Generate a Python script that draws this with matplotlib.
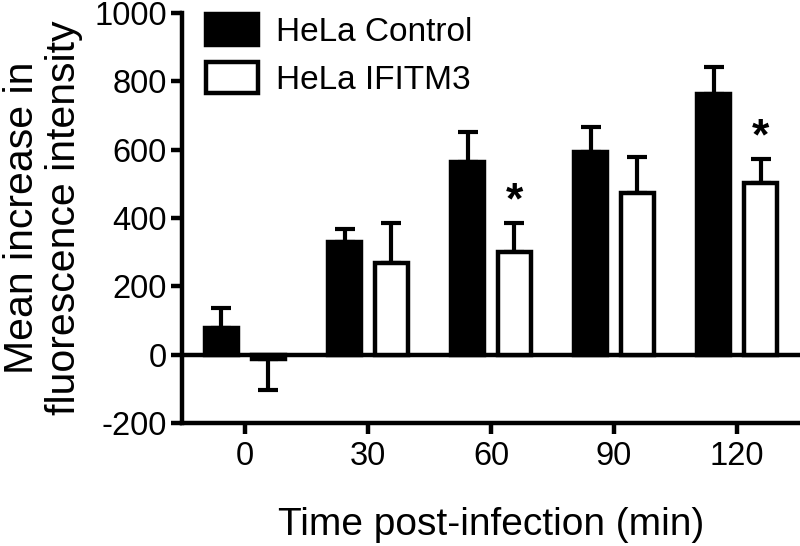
import numpy as np
import matplotlib.pyplot as plt

plt.rcParams.update({'font.family': 'Liberation Sans', 'font.size': 23.5,
                     'axes.unicode_minus': False})

times = ['0', '30', '60', '90', '120']
control = [79, 330, 563, 593, 762]
control_err = [58, 38, 88, 73, 79]
ifitm3 = [-12, 269, 300, 473, 503]
ifitm3_err = [90, 116, 86, 106, 70]
signif = [False, False, True, False, True]

x = np.arange(len(times))
w = 0.27
off = 0.19
lw = 3.2

fig = plt.figure(figsize=(8, 5.46), dpi=100)
ax = fig.add_axes([0.2275, 0.2253, 0.7725, 0.7507])

ax.axhline(0, color='k', lw=lw, zorder=1)

ax.bar(x - off, control, w, color='k', edgecolor='k', lw=lw, zorder=3,
       label='HeLa Control')
ax.bar(x + off, ifitm3, w, color='white', edgecolor='k', lw=lw, zorder=3,
       label='HeLa IFITM3')

# one-sided error bars (away from zero)
c_lo = [0]*len(control)
i_up = [e if v >= 0 else 0 for v, e in zip(ifitm3, ifitm3_err)]
i_lo = [e if v < 0 else 0 for v, e in zip(ifitm3, ifitm3_err)]
ax.errorbar(x - off, control, yerr=[c_lo, control_err], fmt='none', ecolor='k',
            elinewidth=3, capsize=7, capthick=3, zorder=2)
ax.errorbar(x + off, ifitm3, yerr=[i_lo, i_up], fmt='none', ecolor='k',
            elinewidth=3, capsize=7, capthick=3, zorder=2)

for xi, v, e, s in zip(x, ifitm3, ifitm3_err, signif):
    if s:
        ax.text(xi + off, v + e + 62, '*', ha='center', va='center',
                fontsize=32, fontweight='bold')

ax.set_xlim(-0.51, 4.51)
ax.set_ylim(-200, 1000)
ax.set_yticks([-200, 0, 200, 400, 600, 800, 1000])
ax.set_xticks(x)
ax.set_xticklabels(times)

for s in ['top', 'right']:
    ax.spines[s].set_visible(False)
for s in ['left', 'bottom']:
    ax.spines[s].set_linewidth(lw)
ax.tick_params(width=lw, length=8, labelsize=23.5)
ax.tick_params(axis='x', pad=5)
ax.tick_params(axis='y', pad=3)

ax.set_xlabel('Time post-infection (min)', fontsize=28, labelpad=25)
ax.set_ylabel('Mean increase in\nfluorescence intensity', fontsize=29.5,
              linespacing=1.12, labelpad=8)

ax.legend(loc='upper left', bbox_to_anchor=(0.039, 0.997), frameon=False,
          fontsize=24, handlelength=1.55, handleheight=1.05, labelspacing=0.42,
          handletextpad=0.55, borderpad=0, borderaxespad=0)

fig.savefig('out.png', dpi=100)
